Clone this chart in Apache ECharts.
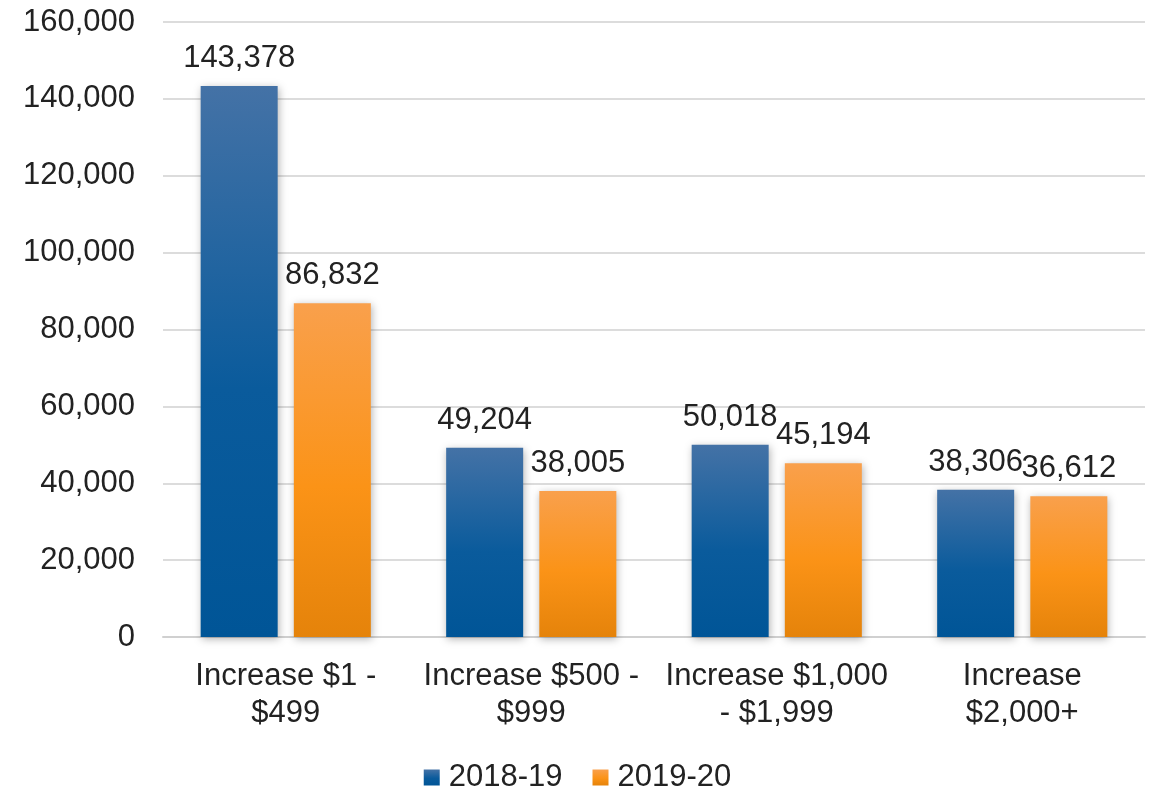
<!DOCTYPE html>
<html>
<head>
<meta charset="utf-8">
<script src="https://cdn.jsdelivr.net/npm/echarts@6/dist/echarts.min.js"></script>
<style>
  html, body { margin: 0; padding: 0; background: #fff; }
  #chart { width: 1155px; height: 786px; }
</style>
</head>
<body>
<div id="chart"></div>
<script>
// categories and values
var categories = ['Increase $1 -\n$499', 'Increase $500 -\n$999', 'Increase $1,000\n- $1,999', 'Increase\n$2,000+'];
var values1819 = [143378, 49204, 50018, 38306];
var values1920 = [86832, 38005, 45194, 36612];
var seriesNames = ['2018-19', '2019-20'];

var font = 'Liberation Sans, Arial, sans-serif';
var chart = echarts.init(document.getElementById('chart'));

function fmt(v) {
  return String(v).replace(/\B(?=(\d{3})+(?!\d))/g, ',');
}

var blueGrad = new echarts.graphic.LinearGradient(0, 0, 0, 1, [
  { offset: 0, color: '#4472a6' },
  { offset: 0.55, color: '#0a5b9c' },
  { offset: 1, color: '#005597' }
]);
var orangeGrad = new echarts.graphic.LinearGradient(0, 0, 0, 1, [
  { offset: 0, color: '#f9a04c' },
  { offset: 0.55, color: '#fb9317' },
  { offset: 1, color: '#e5830a' }
]);

var labelStyle = {
  show: true,
  position: 'top',
  distance: 12,
  color: '#222',
  fontSize: 31,
  fontFamily: font,
  formatter: function (p) { return fmt(p.value); }
};

chart.setOption({
  animation: false,
  grid: { left: 163, right: 10, top: 22, bottom: 149 },
  legend: {
    top: 757,
    left: 'center',
    itemWidth: 16,
    itemHeight: 16,
    itemGap: 30,
    icon: 'rect',
    textStyle: { fontSize: 31, color: '#222', fontFamily: font, padding: [0, 0, 0, 4] },
    data: seriesNames
  },
  xAxis: {
    type: 'category',
    data: categories,
    axisLine: { lineStyle: { color: '#d0d0d0', width: 2 } },
    axisTick: { show: false },
    axisLabel: {
      color: '#222',
      fontSize: 31,
      lineHeight: 37,
      margin: 21,
      fontFamily: font,
      interval: 0
    }
  },
  yAxis: {
    type: 'value',
    min: 0,
    max: 160000,
    interval: 20000,
    axisLine: { show: false },
    axisTick: { show: false },
    splitLine: { lineStyle: { color: '#dcdcdc', width: 2 } },
    axisLabel: {
      color: '#222',
      fontSize: 31,
      margin: 28,
      fontFamily: font,
      formatter: function (v) { return fmt(v); }
    }
  },
  series: [
    {
      name: seriesNames[0],
      type: 'bar',
      data: values1819,
      barWidth: 77,
      barGap: '21%',
      itemStyle: {
        color: blueGrad,
        shadowColor: 'rgba(0,0,0,0.3)',
        shadowBlur: 8,
        shadowOffsetX: 1,
        shadowOffsetY: 2
      },
      label: labelStyle
    },
    {
      name: seriesNames[1],
      type: 'bar',
      data: values1920,
      barWidth: 77,
      barGap: '21%',
      itemStyle: {
        color: orangeGrad,
        shadowColor: 'rgba(0,0,0,0.3)',
        shadowBlur: 8,
        shadowOffsetX: 1,
        shadowOffsetY: 2
      },
      label: labelStyle
    }
  ]
});
</script>
</body>
</html>
